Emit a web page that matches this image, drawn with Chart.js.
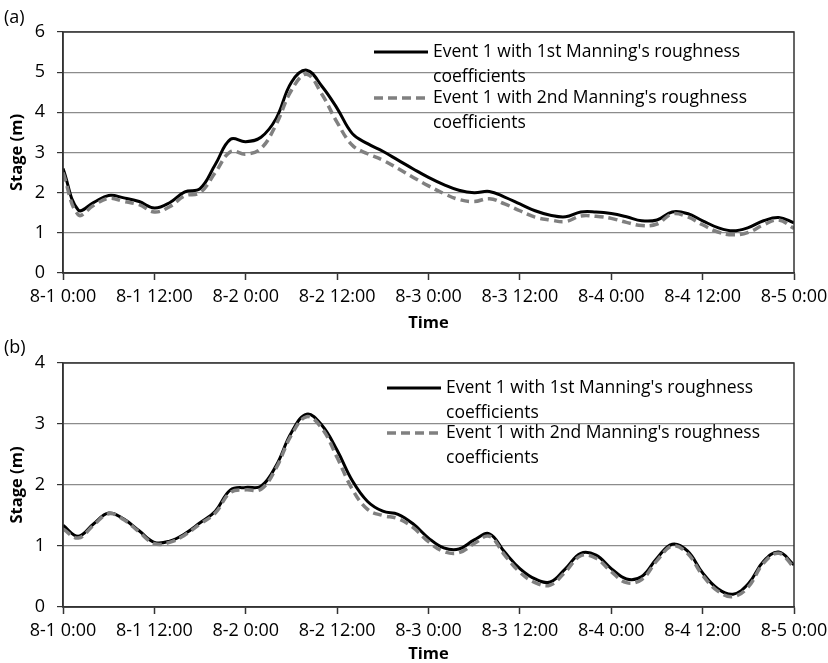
<!DOCTYPE html>
<html>
<head>
<meta charset="utf-8">
<script src="https://cdn.jsdelivr.net/npm/chart.js@4.4.1/dist/chart.umd.min.js"></script>
<style>
  body { margin: 0; background: #fff; }
  .panel { position: absolute; left: 0; }
</style>
</head>
<body>
<canvas id="chart-a" class="panel" style="top:0" width="828" height="340"></canvas>
<canvas id="chart-b" class="panel" style="top:330px" width="828" height="333"></canvas>
<script>
// hours since 8-1 0:00, one reading every 2 hours
const hours = [0, 2, 4, 6, 8, 10, 12, 14, 16, 18, 20, 22, 24, 26, 28, 30, 32, 34, 36, 38, 40, 42, 44, 46, 48,
    50, 52, 54, 56, 58, 60, 62, 64, 66, 68, 70, 72, 74, 76, 78, 80, 82, 84, 86, 88, 90, 92, 94, 96]
const tickLabels = ['8-1 0:00', '8-1 12:00', '8-2 0:00', '8-2 12:00', '8-3 0:00', '8-3 12:00', '8-4 0:00', '8-4 12:00', '8-5 0:00']
const seriesLabels = [
    ["Event 1 with 1st Manning's roughness", 'coefficients'],
    ["Event 1 with 2nd Manning's roughness", 'coefficients']
]

// panel (a)
const stageA1 = [2.6, 1.57, 1.75, 1.93, 1.87, 1.78, 1.62, 1.75, 2.02, 2.1, 2.7, 3.33, 3.27, 3.38, 3.85, 4.75, 5.05,
    4.65, 4.1, 3.47, 3.22, 3.03, 2.81, 2.59, 2.38, 2.2, 2.06, 2.0, 2.03, 1.89, 1.72, 1.55, 1.44, 1.4, 1.52, 1.52,
    1.48, 1.4, 1.3, 1.32, 1.52, 1.48, 1.3, 1.13, 1.05, 1.13, 1.3, 1.38, 1.25]
const stageA2 = [2.5, 1.45, 1.68, 1.86, 1.78, 1.7, 1.52, 1.65, 1.92, 2.0, 2.5, 3.02, 2.96, 3.1, 3.7, 4.55, 4.95,
    4.45, 3.75, 3.18, 2.97, 2.81, 2.6, 2.38, 2.17, 1.98, 1.83, 1.78, 1.85, 1.72, 1.55, 1.39, 1.32, 1.28, 1.42, 1.41,
    1.36, 1.26, 1.18, 1.22, 1.47, 1.4, 1.2, 1.02, 0.95, 1.01, 1.2, 1.32, 1.11]

// panel (b)
const stageB1 = [1.34, 1.16, 1.36, 1.54, 1.44, 1.25, 1.06, 1.08, 1.2, 1.38, 1.57, 1.92, 1.96, 1.98, 2.32, 2.86, 3.16,
    2.98, 2.57, 2.07, 1.73, 1.57, 1.52, 1.36, 1.13, 0.97, 0.95, 1.1, 1.2, 0.9, 0.63, 0.46, 0.41, 0.63, 0.88, 0.85,
    0.63, 0.46, 0.5, 0.8, 1.03, 0.92, 0.56, 0.3, 0.21, 0.38, 0.75, 0.9, 0.69]
const stageB2 = [1.28, 1.13, 1.34, 1.53, 1.43, 1.23, 1.04, 1.06, 1.18, 1.36, 1.54, 1.88, 1.92, 1.93, 2.28, 2.82, 3.12,
    2.93, 2.45, 1.93, 1.6, 1.5, 1.45, 1.3, 1.07, 0.91, 0.89, 1.04, 1.16, 0.85, 0.57, 0.4, 0.36, 0.58, 0.84, 0.8,
    0.58, 0.4, 0.45, 0.76, 1.0, 0.88, 0.52, 0.26, 0.17, 0.33, 0.72, 0.88, 0.65]

Chart.defaults.font.family = "'Open Sans', sans-serif"
Chart.defaults.color = '#000'

const AXIS = '#333'
const GRID = '#8c8c8c'

// frame, panel letter and the two-line legend
const extras = {
    id: 'extras',
    afterDraw(chart, args, opts) {
        const {ctx, chartArea: a} = chart
        ctx.save()
        ctx.strokeStyle = AXIS
        ctx.lineWidth = 1.5
        ctx.strokeRect(a.left, a.top, a.right - a.left, a.bottom - a.top)

        ctx.fillStyle = '#000'
        ctx.font = "18px 'Open Sans'"
        ctx.textBaseline = 'middle'
        ctx.fillText(opts.letter, 4, 18)

        ctx.font = "17.5px 'Open Sans'"
        chart.data.datasets.forEach((ds, i) => {
            const y = opts.legendY[i]
            ctx.beginPath()
            ctx.strokeStyle = ds.borderColor
            ctx.lineWidth = ds.borderWidth
            ctx.setLineDash(ds.borderDash || [])
            ctx.moveTo(opts.legendX, y)
            ctx.lineTo(opts.legendX + 54, y)
            ctx.stroke()
            ctx.setLineDash([])
            ds.label.forEach((line, j) => {
                ctx.fillText(line, opts.legendX + 59, y + j * 25)
            })
        })
        ctx.restore()
    }
}

function makeChart(id, s1, s2, yMax, box, extraOpts) {
    new Chart(document.getElementById(id), {
        type: 'line',
        data: {
            datasets: [{
                label: seriesLabels[0],
                data: hours.map((h, i) => ({x: h, y: s1[i]})),
                borderColor: '#000',
                borderWidth: 3,
                order: 1
            }, {
                label: seriesLabels[1],
                data: hours.map((h, i) => ({x: h, y: s2[i]})),
                borderColor: '#808080',
                borderWidth: 3.5,
                borderDash: [9, 5],
                order: 0
            }]
        },
        options: {
            responsive: false,
            animation: false,
            layout: {padding: {top: box.top, right: 34, left: 0, bottom: 0}},
            elements: {
                point: {radius: 0},
                line: {tension: 0.4, fill: false}
            },
            plugins: {
                legend: {display: false},
                tooltip: {enabled: false},
                extras: extraOpts
            },
            scales: {
                x: {
                    type: 'linear',
                    min: 0,
                    max: 96,
                    afterFit: (s) => { s.height = box.xHeight; s.paddingLeft = 0; s.paddingRight = 0 },
                    ticks: {
                        stepSize: 12,
                        autoSkip: false,
                        maxRotation: 0,
                        padding: 6,
                        font: {size: 18},
                        callback: (v) => tickLabels[v / 12]
                    },
                    grid: {drawOnChartArea: false, tickLength: 7, tickColor: AXIS, tickWidth: 1.5},
                    border: {color: AXIS, width: 1.5},
                    title: {
                        display: true,
                        text: 'Time',
                        font: {size: 16.5, weight: 'bold', lineHeight: 1},
                        padding: {top: 0, bottom: box.titlePad}
                    }
                },
                y: {
                    min: 0,
                    max: yMax,
                    afterFit: (s) => { s.width = 63 },
                    ticks: {stepSize: 1, padding: 12, font: {size: 18}},
                    grid: {color: GRID, lineWidth: 1.2, tickLength: 6, tickColor: AXIS},
                    border: {color: AXIS, width: 1.5},
                    title: {
                        display: true,
                        text: 'Stage (m)',
                        font: {size: 16.5, weight: 'bold', lineHeight: 1.2},
                        padding: {top: 7, bottom: 0}
                    }
                }
            }
        },
        plugins: [extras]
    })
}

makeChart('chart-a', stageA1, stageA2, 6, {top: 32, xHeight: 67, titlePad: 8},
    {letter: '(a)', legendX: 374, legendY: [52, 98]})
makeChart('chart-b', stageB1, stageB2, 4, {top: 33, xHeight: 56, titlePad: 0},
    {letter: '(b)', legendX: 387, legendY: [58, 103]})
</script>
</body>
</html>
